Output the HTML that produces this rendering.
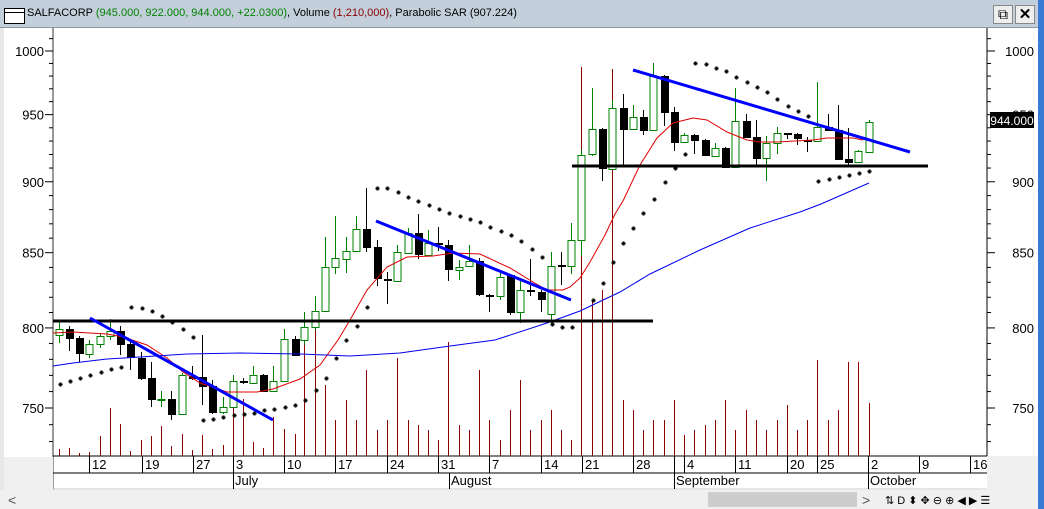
<!DOCTYPE html>
<html><head><meta charset="utf-8"><style>
html,body{margin:0;padding:0;background:#fff;}
body{width:1044px;height:509px;overflow:hidden;position:relative;font-family:"Liberation Sans",sans-serif;}
#title{position:absolute;left:0;top:0;width:1044px;height:27px;background:#c3d0dc;border-bottom:1px solid #8a96a2;}
#title span.t{position:absolute;left:27px;top:7px;font-size:11px;white-space:nowrap;color:#000;}
.g{color:#008000}.r{color:#8b0000}
</style></head><body>
<div id="title">
<div style="position:absolute;left:4px;top:8px;width:19px;height:14px;border:1px solid #000;background:#fff;"><div style="height:3px;border-bottom:1px solid #000;"></div></div>
<span class="t">SALFACORP <span class="g">(945.000, 922.000, 944.000, +22.0300)</span>, Volume <span class="r">(1,210,000)</span>, Parabolic SAR (907.224)</span>
<div style="position:absolute;left:993px;top:5px;width:18px;height:17px;border:1px solid #888;background:#eee;font-size:14px;text-align:center;line-height:17px;">&#x29C9;</div>
<div style="position:absolute;left:1015px;top:5px;width:18px;height:17px;border:1px solid #888;background:#eee;font-size:15px;font-weight:bold;text-align:center;line-height:17px;">✕</div>
</div>
<svg id="s" width="1044" height="509" style="position:absolute;left:0;top:0" xmlns="http://www.w3.org/2000/svg"></svg>
<script>
var s=document.getElementById('s');var h='';
function L(x1,y1,x2,y2,c,w){h+='<line x1="'+x1+'" y1="'+y1+'" x2="'+x2+'" y2="'+y2+'" stroke="'+c+'" stroke-width="'+(w||1)+'"/>';}
function R(x,y,w,hh,f,st){h+='<rect x="'+x+'" y="'+y+'" width="'+w+'" height="'+hh+'" fill="'+f+'"'+(st?' stroke="'+st+'"':'')+'/>';}
function T(x,y,t,a,c,sz){h+='<text x="'+x+'" y="'+y+'" font-size="'+(sz||12)+'" text-anchor="'+(a||'start')+'" fill="'+(c||'#000')+'" font-family="Liberation Sans, sans-serif">'+t+'</text>';}
function P(pts,c,w){h+='<polyline fill="none" stroke="'+c+'" stroke-width="'+w+'" points="'+pts.map(p=>p.join(',')).join(' ')+'"/>';}
R(0,28,4,481,'#e8e8e8');R(1038,0,6,509,'#3a7bd5');R(987,456,51,34,'#f0f0f0');
function py(p){return 51+1241*(Math.log(1000)-Math.log(p));}
L(53,28,53,490,'#333',1);L(987,28,987,456,'#000',1);
for(var p=720;p<=1020;p+=10){var y=py(p);if(y<30||y>455)continue;var big=p%50==0;L(big?45:49,y,53,y,'#000');L(987,y,big?995:991,y,'#000');if(big){T(44,y+5,p,'end','#000',13);T(1034,y+5,p,'end','#000',13);}}
var vx=[59,69,79,89,100,110,120,130,141,151,161,171,182,192,202,212,223,233,243,253,263,273,284,295,304,315,325,335,346,356,366,377,387,397,408,418,428,438,448,459,469,479,489,500,510,520,530,541,551,561,571,581,592,602,612,623,633,643,653,664,674,684,694,705,715,725,735,746,756,766,777,787,797,807,817,828,838,848,858,869];
var vt=[449,448,453,452,436,408,424,451,440,436,426,446,434,450,435,449,445,408,399,442,448,417,429,434,320,301,385,420,400,420,370,430,420,358,420,425,430,440,342,425,430,370,420,440,410,380,430,420,410,430,440,67,300,290,69,400,410,430,420,420,400,435,430,425,420,400,430,410,420,430,420,405,430,420,360,420,410,362,362,403];
for(var i=0;i<vx.length;i++)L(vx[i]+0.5,456,vx[i]+0.5,vt[i],'#8b0000',1);
var C=[[59,320,329,335,343,1],[69,326,329,338,351,0],[79,336,338,353,362,0],[89,340,344,354,358,1],[100,333,336,344,348,1],[110,319,331,336,340,1],[120,326,331,344,355,0],[130,340,344,357,370,0],[141,352,358,378,380,0],[151,362,378,399,407,0],[161,391,399,400,407,1],[171,391,399,414,420,0],[182,373,375,414,415,1],[192,366,376,378,380,0],[202,335,377,386,405,0],[212,380,386,412,414,0],[223,397,407,412,414,1],[233,375,381,407,408,1],[243,378,381,382,384,0],[253,366,375,383,384,1],[263,374,375,391,392,0],[273,366,381,391,392,1],[284,329,339,381,382,1],[295,336,339,355,356,0],[304,312,327,340,345,1],[315,296,311,327,330,1],[325,237,267,311,312,1],[335,216,258,267,274,1],[346,237,251,259,273,1],[356,216,229,251,252,1],[366,188,229,247,252,0],[377,240,247,278,286,0],[387,272,279,280,304,0],[397,245,252,281,282,1],[408,228,233,253,254,1],[418,214,233,254,259,0],[428,230,243,255,256,1],[438,227,243,244,251,0],[448,240,245,269,281,0],[459,260,267,270,280,1],[469,245,261,266,267,1],[479,258,261,294,296,0],[489,294,295,296,312,0],[500,272,277,296,300,1],[510,274,275,312,315,0],[520,280,290,312,323,1],[530,259,290,291,296,0],[541,290,292,299,312,0],[551,252,266,314,324,1],[561,252,265,266,285,0],[571,223,240,266,274,1],[581,150,155,240,256,1],[592,88,129,154,156,1],[602,128,129,168,181,0],[612,100,108,169,170,1],[623,94,108,129,167,0],[633,105,117,129,130,1],[643,110,117,130,135,0],[653,63,76,130,131,1],[664,75,76,112,126,0],[674,107,112,142,151,0],[684,133,135,142,143,1],[694,134,135,140,154,0],[705,139,140,155,156,0],[715,143,148,156,157,1],[725,147,148,167,168,0],[735,88,121,167,168,1],[746,114,121,137,138,0],[756,120,137,158,167,0],[766,136,143,158,181,1],[777,127,133,143,154,1],[787,133,133,134,139,0],[797,133,134,138,145,0],[807,137,140,141,152,0],[817,82,127,141,142,1],[828,114,127,130,131,0],[838,105,130,159,160,0],[848,128,159,162,167,0],[858,150,151,162,163,1],[869,120,122,152,153,1]];
C.forEach(function(c){var col=c[5]?'#008000':'#000';L(c[0]+0.5,c[1],c[0]+0.5,c[4],col,1);var hh=Math.max(1,c[3]-c[2]);if(c[5])R(c[0]-3,c[2]+0.5,7,hh,'#fff',col);else R(c[0]-3,c[2],8,hh+1,'#000');});
P([[53,333],[73,332],[107,334],[123,337],[147,345],[167,358],[183,372],[200,383],[227,392],[257,392],[273,389],[300,379],[320,365],[338,340],[350,320],[367,290],[387,267],[407,257],[433,256],[453,253],[480,254],[510,268],[533,282],[547,290],[563,290],[570,287],[580,278],[590,262],[605,235],[615,214],[623,201],[640,165],[657,138],[673,123],[693,118],[707,120],[727,132],[747,140],[760,142],[777,142],[813,140],[827,138],[853,138],[863,140]],'#e00000',1);
P([[53,366],[73,363],[107,359],[140,357],[187,354],[240,353],[300,354],[350,356],[400,353],[450,346],[495,340],[547,323],[580,311],[620,292],[650,274],[700,250],[750,228],[800,212],[821,204],[869,183]],'#0000ee',1);
L(53,321,653,321,'#000',3);L(572,166,928,166,'#000',3);
L(90,318,273,420,'#0000ff',3);L(376,221,571,300,'#0000ff',3);L(633,70,910,152,'#0000ff',3);
var S=[[60,384],[70,381],[80,378],[90,375],[101,372],[111,369],[121,367],[131,307],[142,308],[152,311],[162,316],[172,322],[183,329],[193,337],[203,420],[213,419],[223,417],[234,415],[244,414],[254,413],[264,410],[274,409],[285,407],[295,405],[305,400],[316,390],[326,378],[336,358],[346,340],[357,326],[367,307],[377,188],[387,188],[398,192],[408,197],[418,201],[429,205],[439,209],[449,213],[460,216],[470,219],[480,222],[490,227],[501,231],[511,235],[521,241],[532,249],[542,257],[552,324],[562,327],[572,327],[593,300],[603,283],[613,262],[623,243],[633,228],[643,213],[654,199],[665,182],[675,168],[685,154],[695,63],[706,64],[716,68],[726,71],[736,77],[747,82],[757,87],[767,92],[777,99],[788,106],[798,111],[808,116],[818,181],[829,179],[839,177],[849,175],[859,173],[869,171]];
S.forEach(function(p){R(p[0]-1.5,p[1]-0.5,4,2,'#000');R(p[0]-0.5,p[1]-1.5,2,4,'#000');});
R(990,112,44,16,'#000');T(1012,125,'944.000','middle','#fff',12);
R(4,457,49,33,'#f0f0f0');
L(53,456,987,456,'#000');L(53,473,987,473,'#000');L(53,489,987,489,'#ccc');
var D=[[89,'12'],[142,'19'],[193,'27'],[233,'3'],[284,'10'],[335,'17'],[387,'24'],[438,'31'],[489,'7'],[541,'14'],[582,'21'],[633,'28'],[684,'4'],[735,'11'],[787,'20'],[817,'25'],[868,'2'],[919,'9'],[970,'16']];
D.forEach(function(d){L(d[0]+0.5,456,d[0]+0.5,473,'#000');T(d[0]+3,469,d[1],'start','#000',13);});
L(674.5,456,674.5,473,'#000');
[[233,'July'],[449,'August'],[674,'September'],[868,'October']].forEach(function(m){L(m[0]+0.5,473,m[0]+0.5,489,'#000');T(m[0]+2,485,m[1],'start','#000',13);});
R(0,490,1038,19,'#f0f0f0');R(708,492,149,15,'#cdcdcd');
T(8,505,'&lt;','start','#555',14);T(862,505,'&gt;','start','#555',14);
T(885,504,'⇅  D  ⬍  ✥  ⊖  ⊕  ◀  ▶  ☰','start','#000',11);
s.innerHTML=h;
</script>
</body></html>
